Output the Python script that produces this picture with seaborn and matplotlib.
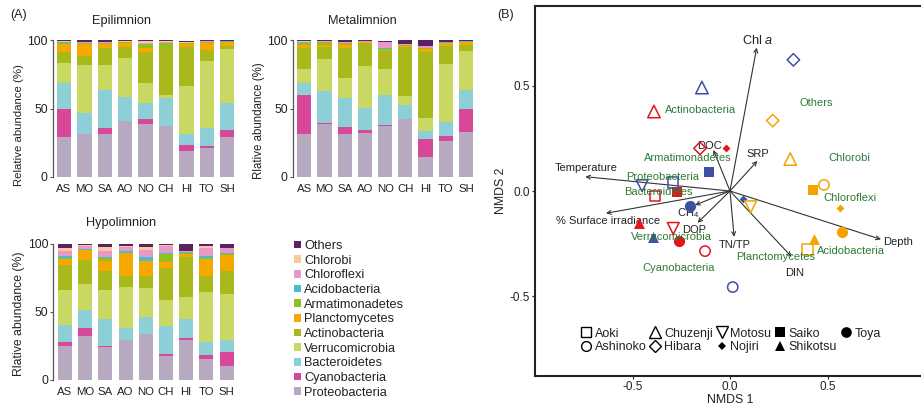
import numpy as np
import pandas as pd
import matplotlib
matplotlib.use("Agg")
import matplotlib.pyplot as plt
import seaborn as sns
from matplotlib.patches import Patch
from matplotlib.lines import Line2D

sns.set_style("ticks")
plt.rcParams['font.family'] = ['Liberation Sans', 'DejaVu Sans']
plt.rcParams['mathtext.fontset'] = 'custom'
plt.rcParams['mathtext.rm'] = 'Liberation Sans'
plt.rcParams['mathtext.it'] = 'Liberation Sans:italic'

# ---------------- data: stacked bars ----------------
sites = ["AS", "MO", "SA", "AO", "NO", "CH", "HI", "TO", "SH"]
taxa = ["Proteobacteria", "Cyanobacteria", "Bacteroidetes", "Verrucomicrobia",
        "Actinobacteria", "Planctomycetes", "Armatimonadetes", "Acidobacteria",
        "Chloroflexi", "Chlorobi", "Others"]
taxa_colors = ["#b7a9c0", "#d7489a", "#8ccfd6", "#c8d862", "#a9b81a", "#f5a800",
               "#93c01f", "#4bbccc", "#e59ac8", "#f8c89a", "#5c2160"]

# rows = sites, columns = taxa (same order as `taxa`)
epilimnion = [
    [29.0, 21.0, 19.0, 14.0, 8.5, 5.5, 1.3, 0.5, 0.3, 0.2, 0.7],
    [31.0, 0.5, 15.3, 35.4, 6.1, 9.2, 0.5, 0.3, 0.3, 0.2, 1.2],
    [31.5, 4.1, 28.1, 18.3, 12.1, 2.9, 0.8, 0.3, 0.5, 0.3, 1.1],
    [40.7, 0.3, 17.3, 29.0, 8.1, 2.4, 0.7, 0.3, 0.3, 0.2, 0.7],
    [39.0, 3.0, 12.1, 14.9, 22.5, 2.9, 2.9, 0.3, 0.5, 1.2, 0.7],
    [37.1, 0.3, 20.4, 2.4, 34.2, 0.3, 3.1, 0.3, 0.9, 0.2, 0.8],
    [18.8, 4.6, 7.8, 35.1, 28.8, 2.0, 0.7, 0.2, 0.3, 0.2, 0.8],
    [21.2, 1.2, 13.2, 49.3, 8.0, 5.4, 0.5, 0.2, 0.3, 0.2, 0.7],
    [29.0, 5.1, 20.0, 39.3, 2.2, 3.2, 0.3, 0.2, 0.2, 0.2, 0.8],
]
metalimnion = [
    [31.0, 29.2, 8.6, 10.5, 15.1, 2.2, 1.2, 1.0, 0.2, 0.2, 0.8],
    [38.8, 0.3, 23.8, 23.2, 9.0, 1.5, 2.2, 0.2, 0.2, 0.2, 0.6],
    [31.0, 5.3, 21.3, 14.4, 22.4, 2.4, 1.0, 0.2, 0.5, 0.5, 1.0],
    [32.4, 1.7, 16.6, 30.5, 17.1, 0.4, 0.2, 0.2, 0.2, 0.4, 0.6],
    [37.3, 0.7, 21.8, 19.5, 13.1, 0.8, 0.3, 1.1, 4.0, 0.2, 1.0],
    [42.2, 0.3, 10.4, 6.1, 36.1, 1.0, 0.2, 0.5, 0.2, 0.2, 2.8],
    [14.4, 13.2, 5.8, 9.8, 48.3, 2.4, 0.3, 0.3, 1.4, 0.2, 4.0],
    [26.1, 3.4, 10.7, 42.7, 13.0, 2.1, 0.3, 0.2, 0.3, 0.3, 1.0],
    [32.9, 17.1, 13.4, 28.8, 4.1, 2.5, 0.3, 0.2, 0.2, 0.2, 0.6],
]
hypolimnion = [
    [24.9, 2.7, 12.4, 26.3, 17.8, 4.9, 0.7, 1.0, 3.9, 2.0, 3.4],
    [32.2, 6.1, 12.9, 19.0, 18.1, 6.8, 0.4, 0.8, 2.0, 0.7, 1.0],
    [23.9, 1.0, 19.5, 21.9, 13.9, 7.4, 1.9, 1.0, 4.4, 2.7, 2.4],
    [29.0, 0.3, 9.0, 30.0, 8.3, 16.3, 0.3, 1.4, 3.0, 0.7, 1.7],
    [33.4, 0.3, 12.2, 21.7, 9.0, 10.5, 0.5, 2.4, 5.6, 1.7, 2.7],
    [17.6, 1.7, 20.5, 19.0, 23.6, 4.2, 6.1, 0.3, 5.3, 0.5, 1.2],
    [29.3, 1.4, 14.4, 15.6, 29.5, 2.5, 0.3, 0.9, 0.7, 0.4, 4.7],
    [15.4, 2.6, 10.0, 36.4, 12.2, 12.4, 0.8, 0.9, 6.4, 1.2, 1.7],
    [10.2, 10.3, 9.0, 33.4, 17.3, 11.3, 1.2, 0.7, 3.2, 0.4, 3.0],
]
yticks_bar = [0, 50, 100]

# ---------------- data: NMDS ----------------
lakes = ["Aoki", "Ashinoko", "Chuzenji", "Hibara", "Motosu", "Nojiri", "Saiko", "Shikotsu", "Toya"]
red_x = [-0.385, -0.128, -0.390, -0.154, -0.291, -0.022, -0.273, -0.465, -0.260]
red_y = [-0.024, -0.286, 0.378, 0.203, -0.178, 0.203, -0.005, -0.154, -0.240]
blue_x = [-0.294, 0.014, -0.144, 0.325, -0.451, 0.065, -0.109, -0.396, -0.207]
blue_y = [0.041, -0.457, 0.492, 0.624, 0.025, -0.040, 0.090, -0.221, -0.071]
orange_x = [0.397, 0.482, 0.309, 0.219, 0.106, 0.564, 0.427, 0.431, 0.576]
orange_y = [-0.278, 0.029, 0.152, 0.335, -0.075, -0.083, 0.005, -0.227, -0.197]

vectors = ["Chl $\\it{a}$", "DOC", "SRP", "Temperature", "% Surface irradiance",
           "CH$_4$", "DOP", "TN/TP", "DIN", "Depth"]
vec_x = [0.137, -0.085, 0.140, -0.742, -0.636, -0.179, -0.166, 0.021, 0.316, 0.774]
vec_y = [0.682, 0.195, 0.143, 0.068, -0.106, -0.067, -0.151, -0.218, -0.313, -0.230]
vec_lab_x = [0.140, -0.103, 0.145, -0.735, -0.624, -0.217, -0.185, 0.024, 0.333, 0.860]
vec_lab_y = [0.716, 0.216, 0.175, 0.108, -0.143, -0.103, -0.186, -0.257, -0.389, -0.244]

species = ["Actinobacteria", "Others", "Armatimonadetes", "Chlorobi", "Proteobacteria",
           "Bacteroidetes", "Chloroflexi", "Verrucomicrobia", "Cyanobacteria",
           "Planctomycetes", "Acidobacteria"]
sp_x = [-0.149, 0.441, -0.217, 0.610, -0.347, -0.369, 0.615, -0.299, -0.265, 0.236, 0.619]
sp_y = [0.386, 0.420, 0.156, 0.156, 0.068, -0.003, -0.035, -0.221, -0.368, -0.316, -0.284]

# ---------------- figure ----------------
W, H = 921, 405
fig = plt.figure(figsize=(W / 100, H / 100), dpi=100)


def fx(p):
    return p / W


def fy(p):
    return 1 - p / H


TXT = "#222222"


def bar_panel(left, top, bottom, x0px, spacing, values):
    height = bottom - top
    width = 9.05 * spacing
    ax = fig.add_axes([fx(left), fy(bottom), fx(width), height / H])
    df = pd.DataFrame(values, index=sites, columns=taxa)
    cum = df.cumsum(axis=1)
    for t, c in zip(reversed(taxa), reversed(taxa_colors)):
        sns.barplot(x=sites, y=cum[t].values, order=sites, color=c, saturation=1,
                    width=0.7, linewidth=0, errorbar=None, ax=ax)
    xl = -(x0px - left) / spacing
    ax.set_xlim(xl, xl + 9.05)
    ax.set_ylim(0, 100)
    ax.set_yticks(yticks_bar)
    ax.set_xlabel("")
    ax.set_ylabel("")
    for s in ["top", "right", "bottom"]:
        ax.spines[s].set_visible(False)
    ax.spines["left"].set_bounds(0, 100)
    ax.spines["left"].set_color("#555555")
    ax.spines["left"].set_linewidth(0.9)
    ax.tick_params(axis="y", length=2.5, width=0.8, pad=1.2, labelsize=8.8,
                   color="#555555", labelcolor=TXT)
    ax.tick_params(axis="x", length=0, pad=5, labelsize=8.2, labelcolor=TXT)
    ax.set_facecolor("none")
    return ax


bar_panel(53, 40.3, 176.7, 64, 20.4, epilimnion)
bar_panel(293, 40.3, 176.7, 304.3, 20.2, metalimnion)
bar_panel(53.3, 243.7, 380, 65, 20.2, hypolimnion)

fig.text(fx(121.5), fy(20.7), "Epilimnion", ha="center", va="center", fontsize=9.2, color=TXT)
fig.text(fx(362), fy(20.7), "Metalimnion", ha="center", va="center", fontsize=9.2, color=TXT)
fig.text(fx(121.5), fy(223), "Hypolimnion", ha="center", va="center", fontsize=9.2, color=TXT)
fig.text(fx(18.8), fy(125), "Relative abundance (%)", rotation=90, ha="center", va="center",
         fontsize=8.2, color=TXT)
fig.text(fx(259), fy(121), "Rlative abundance (%)", rotation=90, ha="center", va="center",
         fontsize=8.3, color=TXT)
fig.text(fx(19.5), fy(314), "Rlative abundance (%)", rotation=90, ha="center", va="center",
         fontsize=8.8, color=TXT)
fig.text(fx(10), fy(15), "(A)", ha="left", va="center", fontsize=9, color=TXT)
fig.text(fx(497), fy(15), "(B)", ha="left", va="center", fontsize=9, color=TXT)

# legend for bars
handles = [Patch(facecolor=c, edgecolor="none") for c in reversed(taxa_colors)]
fig.legend(handles, list(reversed(taxa)), loc="upper left",
           bbox_to_anchor=(fx(294), fy(240)), frameon=False, fontsize=9.2,
           handlelength=0.55, handleheight=0.55, handletextpad=0.25,
           labelspacing=0.21, borderpad=0, borderaxespad=0, labelcolor=TXT)

# ---------------- NMDS panel ----------------
axn = fig.add_axes([fx(535), fy(376), fx(390), 370 / H])
axn.set_xlim(-1.0, 1.0)
axn.set_ylim(-0.88, 0.88)

RED, BLUE, ORANGE = "#e3141b", "#3f4fa3", "#f5a300"
lake_style = {
    "Aoki": ("s", False, 55), "Ashinoko": ("o", False, 55), "Chuzenji": ("^", False, 80),
    "Hibara": ("D", False, 40), "Motosu": ("v", False, 72), "Nojiri": ("D", True, 16),
    "Saiko": ("s", True, 52), "Shikotsu": ("^", True, 62), "Toya": ("o", True, 65),
}

# arrows
for lab, vx, vy, lx, ly in zip(vectors, vec_x, vec_y, vec_lab_x, vec_lab_y):
    axn.annotate("", xy=(vx, vy), xytext=(0, 0),
                 arrowprops=dict(arrowstyle="->", color="#333333", lw=0.8,
                                 shrinkA=0, shrinkB=0, mutation_scale=7))
    fs = 9.2 if lab.startswith("Chl") else 8
    axn.text(lx, ly, lab, ha="center", va="center", fontsize=fs, color=TXT)

for cx, cy, col in [(red_x, red_y, RED), (blue_x, blue_y, BLUE), (orange_x, orange_y, ORANGE)]:
    for i, lake in enumerate(lakes):
        m, filled, s = lake_style[lake]
        sns.scatterplot(x=[cx[i]], y=[cy[i]], marker=m, s=s,
                        facecolor=col if filled else "none", edgecolor=col,
                        linewidth=0 if filled else 1.1, ax=axn, zorder=3)

for name, sx, sy in zip(species, sp_x, sp_y):
    axn.text(sx, sy, name, ha="center", va="center", fontsize=8, color="#2e7a34")

axn.set_xticks([-0.5, 0.0, 0.5])
axn.set_yticks([-0.5, 0.0, 0.5])
axn.set_xticklabels(["-0.5", "0.0", "0.5"])
axn.set_yticklabels(["-0.5", "0.0", "0.5"])
axn.tick_params(length=2.5, width=0.8, pad=1, labelsize=8.5, color="#222222", labelcolor=TXT)
for s in ["left", "bottom", "top", "right"]:
    axn.spines[s].set_color("#222222")
    axn.spines[s].set_linewidth(1.5)
axn.set_xlabel("NMDS 1", fontsize=8.8, color=TXT, labelpad=0.5)
axn.set_ylabel("NMDS 2", fontsize=8.8, color=TXT, labelpad=2)

lh = []
for lake in lakes:
    m, filled, s = lake_style[lake]
    lh.append(Line2D([], [], linestyle="none", marker=m, markersize=np.sqrt(s) * 0.95,
                     markerfacecolor="black" if filled else "none",
                     markeredgecolor="black", markeredgewidth=0 if filled else 1.0))
axn.legend(lh, lakes, ncol=5, loc="upper left", bbox_to_anchor=(0.115, 0.131),
           frameon=False, fontsize=9, handlelength=1.0, handletextpad=0.2,
           columnspacing=0.2, labelspacing=0.15, borderpad=0, borderaxespad=0,
           labelcolor=TXT)

fig.savefig("out.png", dpi=100)
